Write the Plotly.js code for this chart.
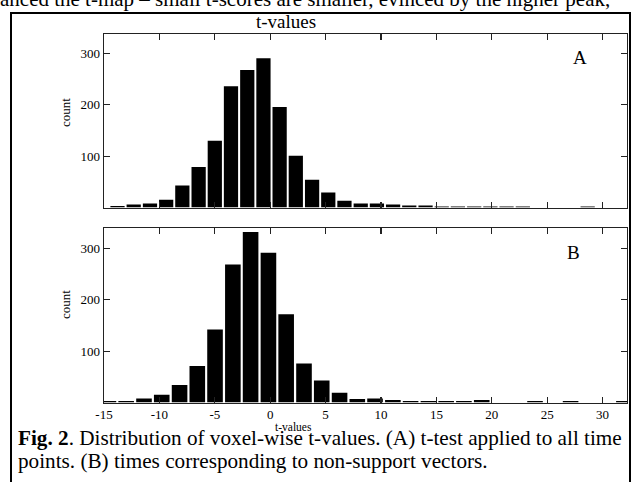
<!DOCTYPE html>
<html>
<head>
<meta charset="utf-8">
<script src="https://cdn.plot.ly/plotly-3.0.1.min.js"></script>
<style>
html,body{margin:0;padding:0;background:#fff;}
#chart{width:636px;height:482px;}
</style>
</head>
<body>
<div id="chart"></div>
<script>
// Panel A: bin centres (t) and counts
const binsA = [-13.78,-12.32,-10.85,-9.39,-7.93,-6.46,-5.00,-3.54,-2.07,-0.61,0.85,2.31,3.78,5.24,6.70,8.17,9.63,11.09,12.55,14.02,15.48,16.94,18.41,19.87,21.33,22.80,24.26,25.72,27.19,28.65,30.11,31.57];
const countsA = [3,6,8,15,43,79,130,236,268,291,196,101,54,29,13,8,8,6,4,4,2,2,2,2,2,2,0,0,0,2,0,0];
// Panel B: bin centres (t) and counts
const binsB = [-14.60,-13.00,-11.39,-9.79,-8.18,-6.58,-4.98,-3.37,-1.77,-0.16,1.44,3.05,4.65,6.26,7.86,9.46,11.07,12.67,14.28,15.88,17.48,19.09,20.69,22.30,23.90,25.50,27.11,28.71,30.32,31.92];
const countsB = [3,3,8,15,34,71,142,269,332,292,172,76,43,19,7,8,5,3,3,3,3,5,0,0,3,0,3,0,0,3];
const xTicks = [-15,-10,-5,0,5,10,15,20,25,30];
const xTickText = ['-15','-10','-5','0','5','10','15','20','25','30'];
const yTicks = [100,200,300];

const W = 636, H = 482;
const px = v => v / W;
const py = v => 1 - v / H;
const serif = '"Liberation Serif", "Times New Roman", serif';

const traces = [
  {type:'bar', x:binsA, y:countsA, xaxis:'x', yaxis:'y', marker:{color:'#000', line:{width:0}}, hoverinfo:'skip'},
  {type:'bar', x:binsB, y:countsB, xaxis:'x2', yaxis:'y2', marker:{color:'#000', line:{width:0}}, hoverinfo:'skip'}
];

const axCommon = {
  showgrid:false, zeroline:false, showline:true, linecolor:'#222', linewidth:1.3,
  mirror:'ticks', ticks:'inside', ticklen:6, tickcolor:'#222', tickwidth:1.2,
  tickfont:{family:serif, size:13, color:'#000'}
};

const layout = {
  width:W, height:H, margin:{l:0,r:0,t:0,b:0},
  paper_bgcolor:'#fff', plot_bgcolor:'#fff', showlegend:false,
  bargap:0.12,
  xaxis: Object.assign({}, axCommon, {domain:[px(104), px(627)], range:[-15,32.2], anchor:'y', tickvals:xTicks, ticktext:xTickText, showticklabels:false}),
  yaxis: Object.assign({}, axCommon, {domain:[py(207.5), py(34)], range:[0,338], anchor:'x', tickvals:yTicks}),
  xaxis2: Object.assign({}, axCommon, {domain:[px(104), px(627)], range:[-15,32.2], anchor:'y2', tickvals:xTicks, ticktext:xTickText}),
  yaxis2: Object.assign({}, axCommon, {domain:[py(402.5), py(228)], range:[0,340], anchor:'x2', tickvals:yTicks}),
  shapes:[
    {type:'rect', xref:'paper', yref:'paper', x0:px(11), x1:px(630), y0:py(490), y1:py(13), line:{color:'#000', width:2}}
  ],
  annotations:[
    {xref:'paper', yref:'paper', x:px(-2), y:py(13), xanchor:'left', yanchor:'bottom', showarrow:false,
     text:'anced the t-map – small t-scores are smaller, evinced by the higher peak,', font:{family:serif, size:21, color:'#000'}},
    {xref:'paper', yref:'paper', x:px(286), y:py(22), xanchor:'center', yanchor:'middle', showarrow:false,
     text:'t-values', font:{family:serif, size:19, color:'#000'}},
    {xref:'paper', yref:'paper', x:px(580), y:py(57), xanchor:'center', yanchor:'middle', showarrow:false,
     text:'A', font:{family:serif, size:19, color:'#000'}},
    {xref:'paper', yref:'paper', x:px(573), y:py(252), xanchor:'center', yanchor:'middle', showarrow:false,
     text:'B', font:{family:serif, size:19, color:'#000'}},
    {xref:'paper', yref:'paper', x:px(65), y:py(113), xanchor:'center', yanchor:'middle', showarrow:false, textangle:-90,
     text:'count', font:{family:serif, size:13, color:'#000'}},
    {xref:'paper', yref:'paper', x:px(65), y:py(305), xanchor:'center', yanchor:'middle', showarrow:false, textangle:-90,
     text:'count', font:{family:serif, size:13, color:'#000'}},
    {xref:'paper', yref:'paper', x:px(293), y:py(427), xanchor:'center', yanchor:'middle', showarrow:false,
     text:'t-values', font:{family:serif, size:11.5, color:'#000'}},
    {xref:'paper', yref:'paper', x:px(16), y:py(438), xanchor:'left', yanchor:'middle', showarrow:false,
     text:'<b>Fig. 2</b>. Distribution of voxel-wise t-values. (A) t-test applied to all time', font:{family:serif, size:21.2, color:'#000'}},
    {xref:'paper', yref:'paper', x:px(16), y:py(461), xanchor:'left', yanchor:'middle', showarrow:false,
     text:'points. (B) times corresponding to non-support vectors.', font:{family:serif, size:21.2, color:'#000'}}
  ]
};

Plotly.newPlot('chart', traces, layout, {staticPlot:true, displayModeBar:false});
</script>
</body>
</html>
